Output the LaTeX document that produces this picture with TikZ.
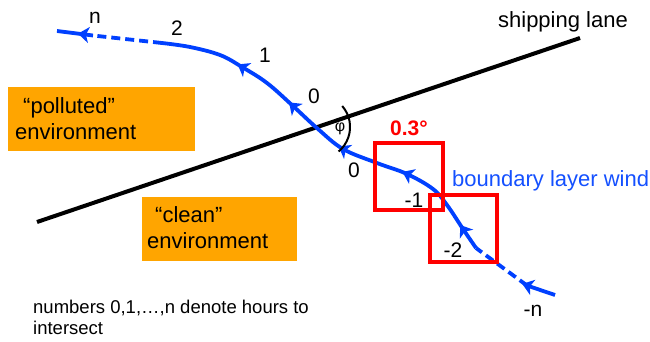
\documentclass[tikz,border=0pt]{standalone}
\usepackage{fontspec}
\setmainfont{Liberation Sans}
\usetikzlibrary{arrows.meta,decorations.markings}
\definecolor{trajblue}{RGB}{0,64,255}
\definecolor{textblue}{RGB}{20,80,255}
\definecolor{boxorange}{RGB}{255,165,0}
\tikzset{trajtip/.tip={Stealth[length=11pt,width=16pt,inset=3pt]}}
\begin{document}
\begin{tikzpicture}[x=1pt,y=-1pt,
  every node/.style={inner sep=0pt},
  traj/.style={trajblue,line width=3.8pt},
  dashseg/.style={traj,dash pattern=on 9pt off 5pt},
  lane/.style={black,line width=4pt},
  redbox/.style={red,line width=3.5pt},
  envbox/.style={fill=boxorange,draw=none},
  big/.style={font=\fontsize{22}{26}\selectfont},
  lbl/.style={font=\fontsize{21}{24}\selectfont},
  small/.style={font=\fontsize{18.5}{21}\selectfont},
  tipmark/.style={postaction={decorate},decoration={markings,mark=at position #1 with {\arrow[xshift=5pt,trajblue]{trajtip}}}}
]
\useasboundingbox (0,0) rectangle (650,341);

% orange boxes
\fill[envbox] (8,87) rectangle (195,151);
\fill[envbox] (142,197) rectangle (297,261);
\node[big,anchor=base west] (pol1) at (23,113) {“polluted”};
\node[big,anchor=base west] (pol2) at (15,139) {environment};
\node[big,anchor=base west] (cln1) at (155,222) {“clean”};
\node[big,anchor=base west] (cln2) at (147,248) {environment};

% shipping lane
\coordinate (laneA) at (37,222);
\coordinate (laneB) at (580,38);
\draw[lane] (laneA) -- (laneB);
\node[big,anchor=base east] (lanelbl) at (628,27) {shipping lane};

% trajectory
\coordinate (t0) at (555,295);
\coordinate (t1) at (527,285.5);
\coordinate (t2) at (476,248);
\coordinate (t3) at (162,43);
\coordinate (t4) at (93,35.5);
\coordinate (t5) at (57,31);
\draw[traj,tipmark=1] (t0) -- (t1);
\draw[dashseg] (t1) -- (t2);
\draw[traj,postaction={decorate},decoration={markings,
  mark=at position 0.059 with {\arrow[xshift=5pt,trajblue]{trajtip}},
  mark=at position 0.267 with {\arrow[xshift=5pt,trajblue]{trajtip}},
  mark=at position 0.445 with {\arrow[xshift=5pt,trajblue]{trajtip}},
  mark=at position 0.616 with {\arrow[xshift=5pt,trajblue]{trajtip}},
  mark=at position 0.782 with {\arrow[xshift=5pt,trajblue]{trajtip}},
  mark=at position 1 with {\arrow[xshift=5pt,trajblue]{trajtip}}}]
  plot[smooth,tension=0.6] coordinates {(476,248) (463,229) (447,205) (433,189) (407,174) (377,163) (343,149) (318,129) (293,106) (267,83) (242,67) (220,55) (190,47) (162,43)};
\draw[dashseg] (t3) -- (t4);
\draw[traj,tipmark=0.28] (t4) -- (t5);

% angle arc
\coordinate (X) at (318,127);
\draw[black,line width=2pt] (X) ++(24.2,-21) arc[start angle=41,end angle=-50,radius=32pt];
\node[font=\fontsize{16}{18}\selectfont] (phi) at (340,129) {φ};

% red boxes
\draw[redbox] (375,143) rectangle (443,210);
\draw[redbox] (430,195) rectangle (497,262);
\node[red,font=\fontsize{21}{24}\selectfont\bfseries] (ang) at (409,128) {0.3°};

% hour labels
\node[lbl] (ln) at (95,18) {n};
\node[lbl] (l2) at (177,28) {2};
\node[lbl] (l1) at (265,55) {1};
\node[lbl] (l0a) at (314,96) {0};
\node[lbl] (l0b) at (354,170) {0};
\node[lbl] (lm1) at (414,200) {-1};
\node[lbl] (lm2) at (453,250) {-2};
\node[lbl] (lmn) at (533,311) {-n};

\node[big,textblue,anchor=base west] (blw) at (452,186) {boundary layer wind};

\node[small,anchor=base west] (note1) at (33,313) {numbers 0,1,…,n denote hours to};
\node[small,anchor=base west] (note2) at (33,334) {intersect};
\end{tikzpicture}
\end{document}
